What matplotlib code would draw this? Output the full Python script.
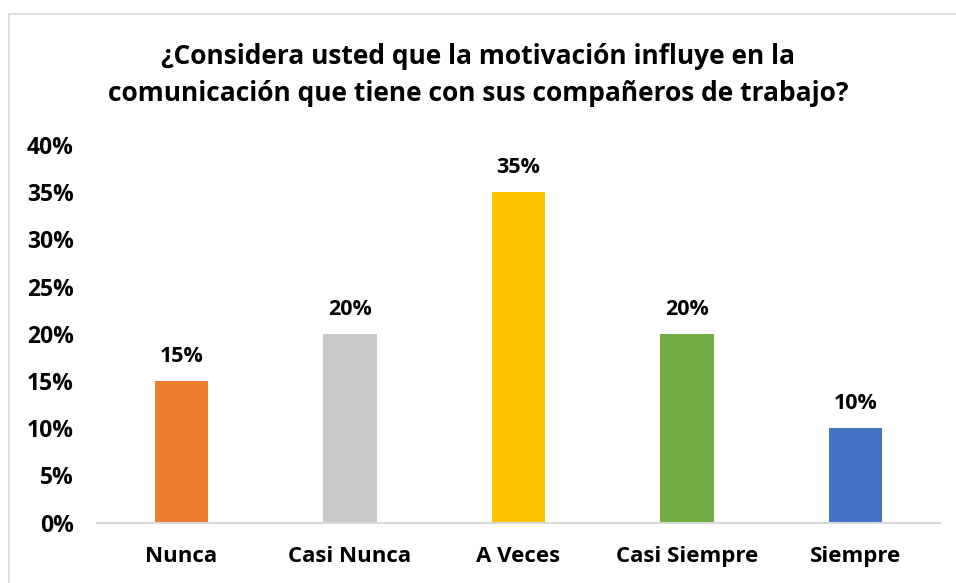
import matplotlib
matplotlib.use("Agg")
import matplotlib.pyplot as plt
from matplotlib.patches import Rectangle

# Chart data
categories = ["Nunca", "Casi Nunca", "A Veces", "Casi Siempre", "Siempre"]
values = [0.15, 0.20, 0.35, 0.20, 0.10]
bar_colors = ["#ED7D31", "#C9C9C9", "#FFC000", "#70AD47", "#4472C4"]
y_ticks = [0, 0.05, 0.10, 0.15, 0.20, 0.25, 0.30, 0.35, 0.40]
title = ("¿Considera usted que la motivación influye en la\n"
         "comunicación que tiene con sus compañeros de trabajo?")

plt.rcParams["font.family"] = ["Open Sans", "DejaVu Sans"]

W, H = 956, 583
fig = plt.figure(figsize=(W / 100, H / 100), dpi=100)

# outer chart border (cut off at right/bottom as in the reference)
fig.patches.append(Rectangle((9 / W, -0.1), 2.0, (H - 14) / H + 0.1,
                             transform=fig.transFigure, fill=False,
                             edgecolor="#D9D9D9", linewidth=1.2))

left, right, top, bottom = 97.25, 939.75, 145, 522.5
ax = fig.add_axes([left / W, (H - bottom) / H, (right - left) / W, (bottom - top) / H])

x = range(len(categories))
ax.bar(x, values, width=0.315, color=bar_colors, zorder=2)

for xi, v in zip(x, values):
    ax.annotate(f"{v:.0%}", (xi, v), xytext=(0, 10), textcoords="offset points",
                ha="center", va="bottom", fontsize=15.5, fontweight="bold")

ax.set_xlim(-0.5, len(categories) - 0.5)
ax.set_ylim(0, 0.40)
ax.set_yticks(y_ticks)
ax.set_yticklabels([f"{t:.0%}" for t in y_ticks], fontsize=16.5, fontweight="bold")
ax.set_xticks(list(x))
ax.set_xticklabels(categories, fontsize=16, fontweight="bold")
ax.tick_params(axis="both", length=0)
ax.tick_params(axis="y", pad=17)
ax.tick_params(axis="x", pad=17)

for s in ["top", "right", "left"]:
    ax.spines[s].set_visible(False)
ax.spines["bottom"].set_color("#D9D9D9")
ax.spines["bottom"].set_linewidth(1.5)

fig.text(0.5, 1 - 75 / H, title, ha="center", va="center", fontsize=19,
         fontweight="bold", linespacing=1.5)

fig.savefig("out.png", dpi=100)
